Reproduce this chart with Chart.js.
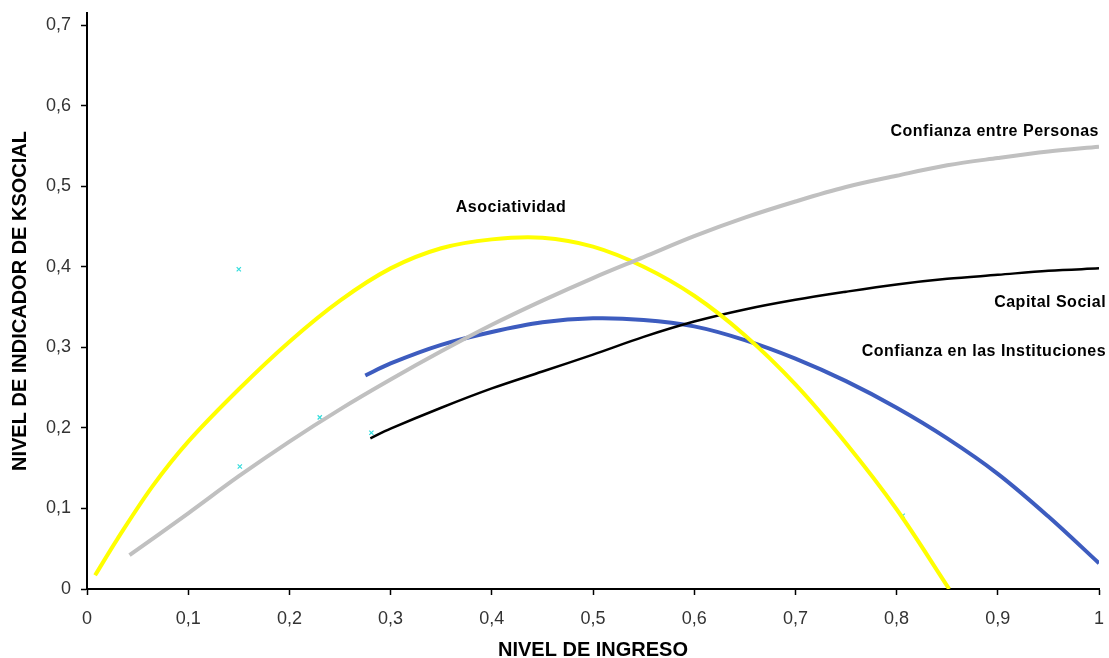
<!DOCTYPE html>
<html lang="es">
<head>
    <meta charset="UTF-8">
    <title>Nivel de indicador de KSocial</title>
    <script src="https://cdn.jsdelivr.net/npm/chart.js"></script>
    <style>
        body { margin: 0; background: #fff; }
    </style>
</head>
<body>
    <canvas id="myChart" width="1109" height="658"></canvas>
    <script>
        // Asociatividad (amarillo)
        const asocX = [0.008, 0.03, 0.065, 0.1, 0.15, 0.2, 0.25, 0.3, 0.35, 0.4, 0.45, 0.5, 0.55, 0.6, 0.65, 0.7, 0.75, 0.8, 0.852];
        const asocY = [0.017, 0.062, 0.128, 0.183, 0.248, 0.307, 0.358, 0.398, 0.423, 0.434, 0.436, 0.425, 0.4, 0.364, 0.315, 0.254, 0.181, 0.099, 0.0];

        // Confianza entre Personas (gris)
        const persX = [0.042, 0.1, 0.15, 0.2, 0.25, 0.3, 0.35, 0.4, 0.45, 0.5, 0.55, 0.6, 0.65, 0.7, 0.75, 0.8, 0.85, 0.9, 0.95, 1.0];
        const persY = [0.042, 0.094, 0.14, 0.183, 0.223, 0.26, 0.295, 0.328, 0.358, 0.386, 0.412, 0.438, 0.461, 0.481, 0.499, 0.513, 0.526, 0.535, 0.543, 0.549];

        // Capital Social (negro)
        const capX = [0.28, 0.3, 0.35, 0.4, 0.45, 0.5, 0.55, 0.6, 0.65, 0.7, 0.75, 0.8, 0.85, 0.9, 0.95, 1.0];
        const capY = [0.187, 0.199, 0.225, 0.249, 0.27, 0.291, 0.313, 0.332, 0.347, 0.359, 0.369, 0.378, 0.385, 0.39, 0.395, 0.398];

        // Confianza en las Instituciones (azul)
        const instX = [0.275, 0.3, 0.35, 0.4, 0.45, 0.5, 0.55, 0.6, 0.65, 0.7, 0.75, 0.8, 0.85, 0.9, 0.95, 1.0];
        const instY = [0.265, 0.28, 0.303, 0.319, 0.331, 0.336, 0.334, 0.326, 0.309, 0.286, 0.258, 0.225, 0.187, 0.143, 0.09, 0.032];

        // puntos sueltos (cian)
        const ptsX = [0.15, 0.151, 0.23, 0.281, 0.806];
        const ptsY = [0.397, 0.152, 0.213, 0.194, 0.091];

        const xTicks = [0, 0.1, 0.2, 0.3, 0.4, 0.5, 0.6, 0.7, 0.8, 0.9, 1];
        const yTicks = [0, 0.1, 0.2, 0.3, 0.4, 0.5, 0.6, 0.7];

        // etiquetas de las curvas: texto, x, y, alineacion
        const labelText = ['Asociatividad', 'Confianza entre Personas', 'Capital Social', 'Confianza en las Instituciones'];
        const labelX = [0.419, 1.0, 1.007, 1.007];
        const labelY = [0.473, 0.568, 0.356, 0.295];
        const labelAlign = ['center', 'right', 'right', 'right'];

        function pairs(xs, ys) {
            return xs.map((x, i) => ({ x: x, y: ys[i] }));
        }

        function coma(v) {
            return String(Math.round(v * 10) / 10).replace('.', ',');
        }

        function curve(label, xs, ys, color, width) {
            return {
                label: label,
                data: pairs(xs, ys),
                borderColor: color,
                backgroundColor: color,
                borderWidth: width,
                showLine: true,
                tension: 0.35,
                pointRadius: 0
            };
        }

        // dibuja los nombres de las curvas sobre el grafico
        const curveLabels = {
            id: 'curveLabels',
            afterDatasetsDraw(chart) {
                const ctx = chart.ctx;
                const xs = chart.scales.x;
                const ys = chart.scales.y;
                ctx.save();
                ctx.font = 'bold 16px "Liberation Sans", Arial, sans-serif';
                ctx.letterSpacing = '0.5px';
                ctx.fillStyle = '#000';
                ctx.textBaseline = 'middle';
                labelText.forEach((t, i) => {
                    ctx.textAlign = labelAlign[i];
                    ctx.fillText(t, xs.getPixelForValue(labelX[i]), ys.getPixelForValue(labelY[i]));
                });
                ctx.restore();
            }
        };

        const tickFont = { family: '"Liberation Sans", Arial, sans-serif', size: 18 };
        const titleFont = { family: '"Liberation Sans", Arial, sans-serif', size: 20, weight: 'bold' };

        const config = {
            type: 'scatter',
            data: {
                datasets: [
                    curve('Confianza entre Personas', persX, persY, '#c0c0c0', 4),
                    curve('Asociatividad', asocX, asocY, '#ffff00', 4),
                    curve('Capital Social', capX, capY, '#000000', 2.5),
                    curve('Confianza en las Instituciones', instX, instY, '#3d5cbf', 4),
                    {
                        label: 'puntos',
                        data: pairs(ptsX, ptsY),
                        showLine: false,
                        pointStyle: 'crossRot',
                        pointRadius: 3,
                        borderWidth: 1.2,
                        borderColor: '#33dddd',
                        backgroundColor: '#33dddd'
                    }
                ]
            },
            options: {
                responsive: false,
                animation: false,
                layout: { padding: { top: 13, right: 10, left: 0, bottom: 0 } },
                plugins: {
                    legend: { display: false },
                    tooltip: { enabled: false }
                },
                scales: {
                    x: {
                        type: 'linear',
                        min: 0,
                        max: 1,
                        afterBuildTicks: s => { s.ticks = xTicks.map(v => ({ value: v })); },
                        afterFit: s => { s.height = 69; s.paddingLeft = 0; s.paddingRight = 0; },
                        ticks: { callback: coma, color: '#333', font: tickFont, padding: 13, maxRotation: 0 },
                        grid: { drawOnChartArea: false, tickLength: 6, color: '#000', tickWidth: 1.5 },
                        border: { color: '#000', width: 2 },
                        title: { display: true, text: 'NIVEL DE INGRESO', color: '#000', font: titleFont, padding: { top: 0, bottom: -4 } }
                    },
                    y: {
                        type: 'linear',
                        min: 0,
                        max: 0.715,
                        afterBuildTicks: s => { s.ticks = yTicks.map(v => ({ value: v })); },
                        afterFit: s => { s.width = 87; s.paddingTop = 0; s.paddingBottom = 0; },
                        ticks: { callback: coma, color: '#333', font: tickFont, padding: 10 },
                        grid: { drawOnChartArea: false, tickLength: 6, color: '#000', tickWidth: 1.5 },
                        border: { color: '#000', width: 2 },
                        title: { display: true, text: 'NIVEL DE INDICADOR DE KSOCIAL', color: '#000', font: titleFont, padding: { top: 8, bottom: 0 } }
                    }
                }
            },
            plugins: [curveLabels]
        };

        new Chart(document.getElementById('myChart').getContext('2d'), config);
    </script>
</body>
</html>
